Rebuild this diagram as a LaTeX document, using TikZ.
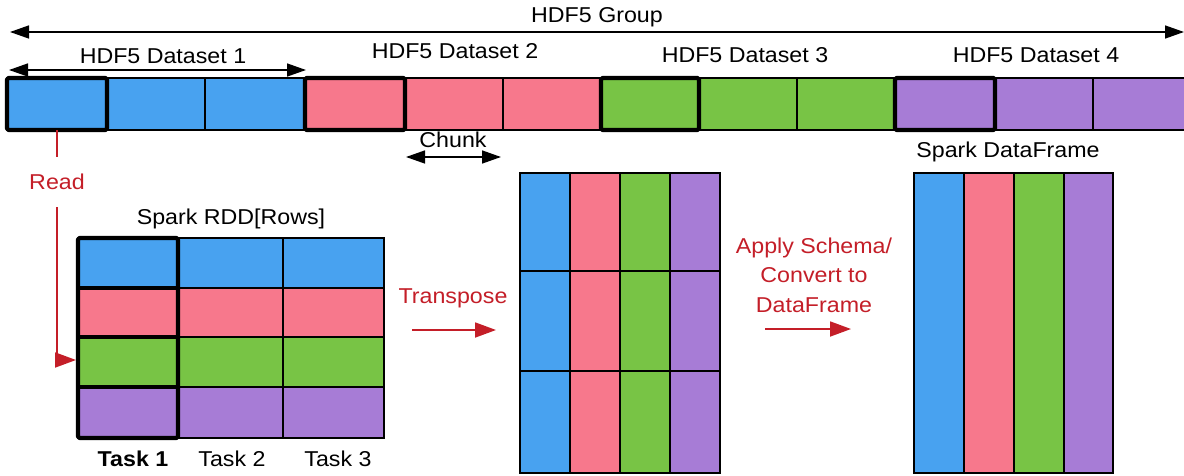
\documentclass[tikz,border=0pt]{standalone}
\usepackage{fontspec}
\setmainfont{Liberation Sans}[FakeStretch=1.08]
\usetikzlibrary{arrows.meta}
\definecolor{cblue}{RGB}{72,162,240}
\definecolor{cpink}{RGB}{247,120,140}
\definecolor{cgreen}{RGB}{120,196,69}
\definecolor{cpurple}{RGB}{167,124,214}
\definecolor{cred}{RGB}{196,30,40}
\begin{document}
\begin{tikzpicture}[x=1pt,y=-1pt,
  lbl/.style={font=\fontsize{21.5}{29.5}\selectfont, anchor=base, inner sep=0pt},
  redlbl/.style={lbl, text=cred},
  cell/.style={draw=black, line width=1.3pt},
  thickb/.style={draw=black, line width=4.2pt, rounded corners=1.5pt, line join=round},
  dimarrow/.style={draw=black, line width=1.4pt, {Triangle[length=19pt,width=13pt]}-{Triangle[length=19pt,width=13pt]}},
  redarrow/.style={draw=cred, line width=1.8pt, -{Triangle[length=21pt,width=15pt]}},
  redline/.style={draw=cred, line width=1.8pt}]
\useasboundingbox (0,0) rectangle (1184,476);
\fill[white] (0,0) rectangle (1184,476);
\clip (0,0) rectangle (1184,476);

% top labels
\node[lbl] (grp) at (597,23) {HDF5 Group};
\node[lbl] (ds1) at (163,64) {HDF5 Dataset 1};
\node[lbl] (ds2) at (455,59) {HDF5 Dataset 2};
\node[lbl] (ds3) at (745,63) {HDF5 Dataset 3};
\node[lbl] (ds4) at (1036,63) {HDF5 Dataset 4};

% dimension arrows
\coordinate (gL) at (10,32);
\coordinate (gR) at (1184,32);
\draw[dimarrow] (gL) -- (gR);
\coordinate (dL) at (9,70);
\coordinate (dR) at (306,70);
\draw[dimarrow] (dL) -- (dR);

% top row of chunks
\foreach \xa/\xb/\col in {7/107/cblue,107/205/cblue,205/305/cblue,
  305/405/cpink,405/503/cpink,503/601/cpink,
  601/699/cgreen,699/797/cgreen,797/895/cgreen,
  895/995/cpurple,995/1093/cpurple,1093/1195/cpurple}
  \draw[cell, fill=\col] (\xa,78) rectangle (\xb,130);
\foreach \xa/\xb in {7/107,305/405,601/699,895/995}
  \draw[thickb] (\xa,78) rectangle (\xb,130);

% chunk
\node[lbl] (chunk) at (453,148) {Chunk};
\coordinate (cL) at (406,157);
\coordinate (cR) at (501,157);
\draw[dimarrow] (cL) -- (cR);

% read arrow
\coordinate (readS) at (57,130);
\coordinate (readE) at (76,360);
\node[font=\fontsize{21.5}{26}\selectfont, text=cred, inner sep=0pt, minimum height=50pt] (read) at (57,182) {Read};
\draw[redline] (readS) -- (read.north);
\draw[redarrow] (read.south) |- (readE);

% RDD
\node[lbl] (rddt) at (231,224) {Spark RDD[Rows]};
\foreach \ya/\yb/\col in {238/288/cblue,288/337/cpink,337/387/cgreen,387/438/cpurple}{
  \foreach \xa/\xb in {78/178,178/283,283/384}
    \draw[cell, fill=\col] (\xa,\ya) rectangle (\xb,\yb);
}
\draw[thickb] (78,238) rectangle (178,438);
\foreach \y in {288,337,387}
  \draw[line width=4.2pt] (78,\y) -- (178,\y);
\node[lbl, font=\fontsize{21.5}{26}\selectfont\bfseries] (t1) at (133,466) {Task 1};
\node[lbl] (t2) at (232,466) {Task 2};
\node[lbl] (t3) at (338,466) {Task 3};

% transpose
\node[redlbl] (tr) at (453,303) {Transpose};
\coordinate (tA) at (412,330);
\coordinate (tB) at (496,330);
\draw[redarrow] (tA) -- (tB);

% transposed matrix
\foreach \xa/\xb/\col in {520/570/cblue,570/620/cpink,620/670/cgreen,670/720/cpurple}{
  \foreach \ya/\yb in {173/271,271/371,371/473}
    \draw[cell, fill=\col] (\xa,\ya) rectangle (\xb,\yb);
}

% apply schema
\node[redlbl, align=center] (ap) at (814,312) {Apply Schema/\\Convert to\\DataFrame};
\coordinate (aA) at (765,329);
\coordinate (aB) at (851,329);
\draw[redarrow] (aA) -- (aB);

% dataframe
\node[lbl] (dft) at (1008,158) {Spark DataFrame};
\foreach \xa/\xb/\col in {914/964/cblue,964/1014/cpink,1014/1064/cgreen,1064/1113/cpurple}
  \draw[cell, fill=\col] (\xa,173) rectangle (\xb,473);
\end{tikzpicture}
\end{document}
